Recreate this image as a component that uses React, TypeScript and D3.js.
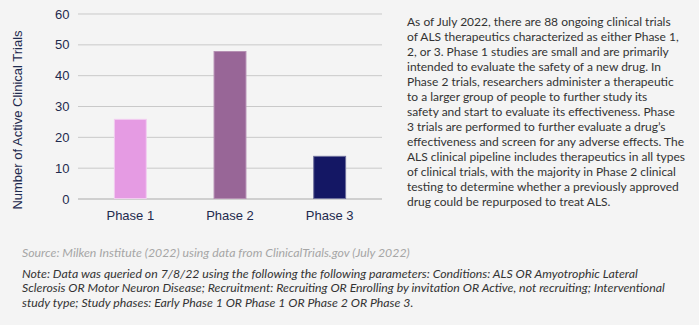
import React from "react";
import * as d3 from "d3";

const categories = ["Phase 1", "Phase 2", "Phase 3"];
const values = [26, 48, 14];
const barColors = ["#e59be3", "#986697", "#141764"];
const barStrokes = ["#f2cdf0", "#b590b3", "#6d6f9c"];
const yTicks = [0, 10, 20, 30, 40, 50, 60];
const yTitle = "Number of Active Clinical Trials";
const paragraphLines = [
  "As of July 2022, there are 88 ongoing clinical trials",
  "of ALS therapeutics characterized as either Phase 1,",
  "2, or 3. Phase 1 studies are small and are primarily",
  "intended to evaluate the safety of a new drug. In",
  "Phase 2 trials, researchers administer a therapeutic",
  "to a larger group of people to further study its",
  "safety and start to evaluate its effectiveness. Phase",
  "3 trials are performed to further evaluate a drug\u2019s",
  "effectiveness and screen for any adverse effects. The",
  "ALS clinical pipeline includes therapeutics in all types",
  "of clinical trials, with the majority in Phase 2 clinical",
  "testing to determine whether a previously approved",
  "drug could be repurposed to treat ALS.",
];
const sourceText = "Source: Milken Institute (2022) using data from ClinicalTrials.gov (July 2022)";
const noteLines = [
  "Note: Data was queried on 7/8/22 using the following the following parameters: Conditions: ALS OR Amyotrophic Lateral",
  "Sclerosis OR Motor Neuron Disease; Recruitment: Recruiting OR Enrolling by invitation OR Active, not recruiting; Interventional",
  "study type; Study phases: Early Phase 1 OR Phase 1 OR Phase 2 OR Phase 3.",
];

export default function App() {
  const W = 699;
  const H = 325;
  const plotLeft = 78;
  const plotRight = 382;
  const y = d3.scaleLinear().domain([0, 60]).range([199, 14]);
  const x = d3
    .scaleBand<string>()
    .domain(categories)
    .range([plotLeft, plotRight])
    .paddingInner(0.67)
    .paddingOuter(0.36);
  const axisColor = "#1e2a4e";
  const axisFont = "'Liberation Sans', Arial, sans-serif";
  const textFont = "Lato, 'Open Sans', sans-serif";

  return (
    <div style={{ position: "absolute", left: 0, top: 0, width: W, height: H }}>
      <svg width={W} height={H} style={{ display: "block" }}>
        <rect x={0} y={0} width={W} height={H} fill="#f4f4f4" />
        {yTicks.map((t) => (
          <line
            key={t}
            x1={plotLeft}
            x2={plotRight}
            y1={y(t)}
            y2={y(t)}
            stroke={t === 0 ? "#cfcfcf" : "#c9c9c9"}
            strokeWidth={t === 0 ? 2 : 1}
          />
        ))}
        {yTicks.map((t) => (
          <text
            key={"l" + t}
            x={69.5}
            y={y(t) + 4.5}
            textAnchor="end"
            fontFamily={axisFont}
            fontSize={13}
            fill={axisColor}
          >
            {t}
          </text>
        ))}
        {categories.map((c, i) => (
          <rect
            key={c}
            x={x(c)! + 0.5}
            y={y(values[i]) + 0.5}
            width={x.bandwidth() - 1}
            height={y(0) - y(values[i]) - 1}
            fill={barColors[i]}
            stroke={barStrokes[i]}
            strokeWidth={1}
          />
        ))}
        {categories.map((c) => (
          <text
            key={"c" + c}
            x={x(c)! + x.bandwidth() / 2}
            y={220}
            textAnchor="middle"
            fontFamily={axisFont}
            fontSize={13}
            fill={axisColor}
          >
            {c}
          </text>
        ))}
        <text
          transform={`translate(22,120) rotate(-90)`}
          textAnchor="middle"
          fontFamily={axisFont}
          fontSize={13}
          fill={axisColor}
        >
          {yTitle}
        </text>
        <text fontFamily={textFont} fontSize={12} fill="#333333">
          {paragraphLines.map((l, i) => (
            <tspan key={i} x={407} y={25.5 + i * 15.08}>
              {l}
            </tspan>
          ))}
        </text>
        <text
          x={22}
          y={256.7}
          fontFamily={textFont}
          fontStyle="italic"
          fontSize={12.3}
          fill="#a6a6a6"
        >
          {sourceText}
        </text>
        <text fontFamily={textFont} fontStyle="italic" fontSize={12.3} fill="#333333">
          {noteLines.map((l, i) => (
            <tspan key={i} x={22} y={277.6 + i * 14.6}>
              {l}
            </tspan>
          ))}
        </text>
      </svg>
    </div>
  );
}
